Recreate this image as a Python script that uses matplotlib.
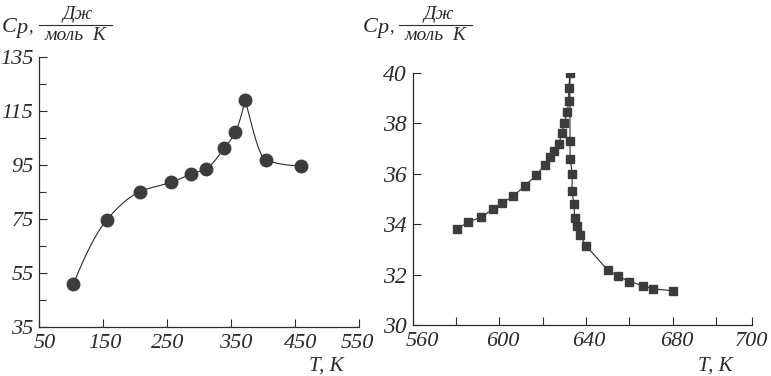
import numpy as np
import matplotlib
matplotlib.use("Agg")
import matplotlib.pyplot as plt
from matplotlib.lines import Line2D
from matplotlib.ticker import FixedLocator
from matplotlib.transforms import ScaledTranslation

# ---------------- data ----------------
left_T = [103.6, 155.8, 207.3, 256.3, 288.0, 310.5, 339.5, 356.7, 371.9, 404.7, 458.9]
left_Cp = [51.0, 74.7, 85.1, 88.6, 91.65, 93.5, 101.3, 107.2, 119.0, 96.7, 94.7]
left_peak = 8

right_T = [580.4, 585.7, 591.5, 596.9, 601.1, 606.4, 611.8, 617.1, 620.9, 623.4,
           625.4, 627.4, 628.8, 630.0, 631.4, 632.0, 632.1, 632.6,
           632.6, 632.7, 633.7, 633.5, 634.4, 634.8, 635.7, 637.2, 640.0,
           650.0, 654.8, 660.0, 666.3, 670.8, 680.3]
right_Cp = [33.82, 34.07, 34.28, 34.58, 34.82, 35.11, 35.51, 35.95, 36.33, 36.65,
            36.90, 37.16, 37.60, 38.02, 38.43, 38.89, 39.38, 40.0,
            37.30, 36.57, 35.98, 35.31, 34.80, 34.25, 33.94, 33.57, 33.14,
            32.18, 31.94, 31.72, 31.56, 31.43, 31.36]

left_xticks = [50, 150, 250, 350, 450, 550]
left_yticks = [35, 55, 75, 95, 115, 135]
left_yminor = [45, 65, 85, 105, 125]
right_xticks = [560, 580, 600, 620, 640, 660, 680, 700, 716.5]
right_xlabels = ['560', '', '600', '', '640', '', '680', '', '700']
right_yticks = [30, 32, 34, 36, 38, 40]

W, H = 771, 376
INK = '#2b2b2b'
FONT = 'Liberation Serif'
plt.rcParams['font.family'] = [FONT, 'DejaVu Serif']
plt.rcParams['font.style'] = 'italic'


def pchip(x, y, n=80):
    """Monotone cubic Hermite rendering of a branch (drawing only)."""
    x = np.asarray(x, float); y = np.asarray(y, float)
    h = np.diff(x); d = np.diff(y) / h
    m = np.zeros_like(x)
    for k in range(1, len(x) - 1):
        if d[k - 1] * d[k] > 0:
            w1 = 2 * h[k] + h[k - 1]; w2 = h[k] + 2 * h[k - 1]
            m[k] = (w1 + w2) / (w1 / d[k - 1] + w2 / d[k])
    def endslope(h0, h1, d0, d1):
        s = ((2 * h0 + h1) * d0 - h0 * d1) / (h0 + h1)
        if np.sign(s) != np.sign(d0):
            s = 0.0
        elif np.sign(d0) != np.sign(d1) and abs(s) > abs(3 * d0):
            s = 3 * d0
        return s
    if len(x) > 2:
        m[0] = endslope(h[0], h[1], d[0], d[1])
        m[-1] = endslope(h[-1], h[-2], d[-1], d[-2])
    else:
        m[:] = d[0]
    xs, ys = [], []
    for k in range(len(x) - 1):
        t = np.linspace(0, 1, n)
        h00 = 2 * t**3 - 3 * t**2 + 1; h10 = t**3 - 2 * t**2 + t
        h01 = -2 * t**3 + 3 * t**2; h11 = t**3 - t**2
        xs.append(x[k] + t * h[k])
        ys.append(h00 * y[k] + h10 * h[k] * m[k] + h01 * y[k + 1] + h11 * h[k] * m[k + 1])
    return np.concatenate(xs), np.concatenate(ys)


fig = plt.figure(figsize=(W / 100, H / 100), dpi=100)
fig.patch.set_facecolor('white')


def fx(px):
    return px / W


def fy(py):
    return 1 - py / H


def style(ax, ysize):
    for s in ['top', 'right']:
        ax.spines[s].set_visible(False)
    for s in ['left', 'bottom']:
        ax.spines[s].set_color(INK)
        ax.spines[s].set_linewidth(0.9)
    ax.tick_params(direction='in', length=6, width=0.8, colors=INK, pad=4)
    ax.tick_params(axis='x', labelsize=16, pad=5)
    ax.tick_params(axis='y', labelsize=ysize, pad=4)
    ax.tick_params(which='minor', direction='in', length=5, width=0.8, colors=INK)


def shift_xlabels(ax, shifts):
    for lab, dx in zip(ax.get_xticklabels(), shifts):
        lab.set_transform(lab.get_transform() + ScaledTranslation(dx / 100, 0, fig.dpi_scale_trans))


# ---------------- left ----------------
axL = fig.add_axes([fx(39), fy(327.3), fx(359.3) - fx(39), fy(56.7) - fy(327.3)])
axL.set_xlim(50, 550)
axL.set_ylim(35, 135)
axL.set_xticks(left_xticks)
axL.set_yticks(left_yticks)
axL.yaxis.set_minor_locator(FixedLocator(left_yminor))
xa, ya = pchip(left_T[:left_peak + 1], left_Cp[:left_peak + 1])
xb, yb = pchip(left_T[left_peak:], left_Cp[left_peak:])
axL.plot(xa, ya, color=INK, lw=0.8, zorder=2)
axL.plot(xb, yb, color=INK, lw=0.8, zorder=2)
axL.plot(left_T, left_Cp, 'o', ms=9, color='#3c3c3c', mec='#3c3c3c', zorder=3)
style(axL, 16)
shift_xlabels(axL, [6, 2, 1, 5, 5, -2])

# ---------------- right ----------------
axR = fig.add_axes([fx(412.7), fy(325), fx(751.7) - fx(412.7), fy(72.7) - fy(325)])
axR.set_xlim(560, 716.5)
axR.set_ylim(30, 40)
axR.set_xticks(right_xticks)
axR.set_xticklabels(right_xlabels)
axR.set_yticks(right_yticks)
axR.plot(right_T, right_Cp, '-', color=INK, lw=0.8, zorder=2)
axR.plot(right_T, right_Cp, 's', ms=5.5, color='#3c3c3c', mec='#3c3c3c', zorder=3)
style(axR, 17)
shift_xlabels(axR, [10, 0, 3, 0, 3, 0, 4, 0, 0])


# ---------------- axis titles ----------------
def ylabel(x0, xfrac_c, xl0, xl1):
    tkw = dict(color=INK, transform=fig.transFigure)
    fig.text(fx(x0), fy(32), 'C', fontsize=16, ha='left', va='baseline', **tkw)
    fig.text(fx(x0 + 14), fy(33), 'p', fontsize=16, ha='left', va='baseline', **tkw)
    fig.text(fx(x0 + 26), fy(31), ',', fontsize=13, ha='left', va='baseline', **tkw)
    fig.text(fx(xfrac_c + 3), fy(19), 'Дж', fontsize=14, ha='center', va='baseline', **tkw)
    fig.add_artist(Line2D([fx(xl0), fx(xl1)], [fy(25), fy(25)],
                          transform=fig.transFigure, color=INK, lw=0.8))
    fig.text(fx(xfrac_c), fy(40), 'моль  К', fontsize=14, ha='center', va='baseline', **tkw)


ylabel(2, 75, 39, 112)
ylabel(363, 436, 399, 472)

fig.text(fx(326), fy(371), 'T, K', fontsize=15, color=INK, ha='center', va='baseline')
fig.text(fx(715), fy(371), 'T, K', fontsize=15, color=INK, ha='center', va='baseline')

fig.savefig('out.png', dpi=100, facecolor='white')
